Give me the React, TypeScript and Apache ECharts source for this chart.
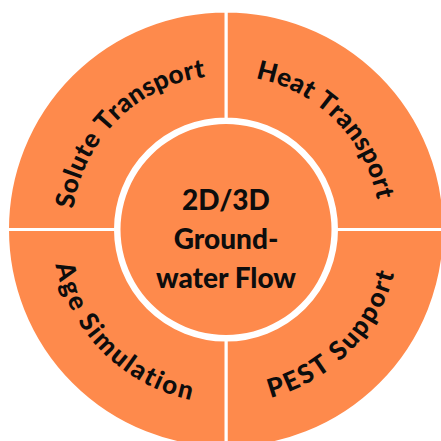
import React, { useEffect, useRef } from 'react';
import * as echarts from 'echarts';

const categories = ['Heat Transport', 'PEST Support', 'Age Simulation', 'Solute Transport'];
const values = [1, 1, 1, 1];
const centerLabel = ['2D/3D', 'Ground-', 'water Flow'];

const ORANGE = '#FE8A4C';
const TEXT = '#0d0d0d';
const FONT_FAMILY = 'Lato';
const FONT_WEIGHT = 900;
const FONT_SIZE = 26;
const CENTER_FONT_SIZE = 28;

export default function App() {
  const ref = useRef<HTMLDivElement>(null);
  useEffect(() => {
    document.body.style.margin = '0';
    const chart = echarts.init(ref.current!, null, { renderer: 'svg' });
    const cx = 226;
    const cy = 229.5;
    const R = 164;
    const ls = 1.2;
    const ctx = document.createElement('canvas').getContext('2d')!;
    ctx.font = `${FONT_WEIGHT} ${FONT_SIZE}px ${FONT_FAMILY}`;
    const total = values.reduce((a, b) => a + b, 0);
    const graphics: any[] = [];
    let acc = 0;
    categories.forEach((name, i) => {
      const a0 = (acc / total) * 360;
      acc += values[i];
      const a1 = (acc / total) * 360;
      const mid = ((a0 + a1) / 2) * Math.PI / 180;
      const top = Math.cos(mid) > 0;
      const chars = Array.from(name);
      const widths = chars.map((c) => ctx.measureText(c).width);
      const L = widths.reduce((a, b) => a + b, 0) + ls * (chars.length - 1);
      const span = L / R;
      let cum = 0;
      chars.forEach((ch, j) => {
        const w = widths[j];
        const off = (cum + w / 2) / R - span / 2;
        cum += w + ls;
        const th = mid + (top ? off : -off);
        const x = cx + R * Math.sin(th);
        const y = cy - R * Math.cos(th);
        const rot = top ? -th : -(th - Math.PI);
        graphics.push({
          type: 'text',
          x,
          y,
          rotation: rot,
          silent: true,
          z: 100,
          style: {
            text: ch,
            fill: TEXT,
            fontSize: FONT_SIZE,
            fontFamily: FONT_FAMILY,
            fontWeight: FONT_WEIGHT,
            align: 'center',
            verticalAlign: 'middle',
            textAlign: 'center',
            textVerticalAlign: 'middle',
          },
        });
      });
    });

    graphics.push({
      type: 'text',
      x: cx,
      y: cy + 8,
      silent: true,
      z: 100,
      style: {
        text: centerLabel.join('\n'),
        fill: TEXT,
        fontSize: CENTER_FONT_SIZE,
        fontFamily: FONT_FAMILY,
        fontWeight: FONT_WEIGHT,
        lineHeight: 39,
        align: 'center',
        verticalAlign: 'middle',
        textAlign: 'center',
        textVerticalAlign: 'middle',
      },
    });

    chart.setOption({
      animation: false,
      backgroundColor: '#ffffff',
      series: [
        {
          type: 'pie',
          center: [cx, cy],
          radius: [110.5, 218.5],
          startAngle: 90,
          clockwise: true,
          silent: true,
          avoidLabelOverlap: false,
          label: { show: false },
          labelLine: { show: false },
          emphasis: { disabled: true },
          itemStyle: { color: ORANGE, borderColor: '#ffffff', borderWidth: 3 },
          data: categories.map((name, i) => ({ name, value: values[i] })),
        },
        {
          type: 'pie',
          center: [cx, cy],
          radius: [0, 105.5],
          silent: true,
          emphasis: { disabled: true },
          itemStyle: { color: ORANGE },
          labelLine: { show: false },
          label: { show: false },
          data: [{ name: centerLabel.join(' '), value: 1 }],
        },
      ],
      graphic: graphics,
    });
    return () => chart.dispose();
  }, []);
  return <div ref={ref} style={{ width: 441, height: 441 }} />;
}
